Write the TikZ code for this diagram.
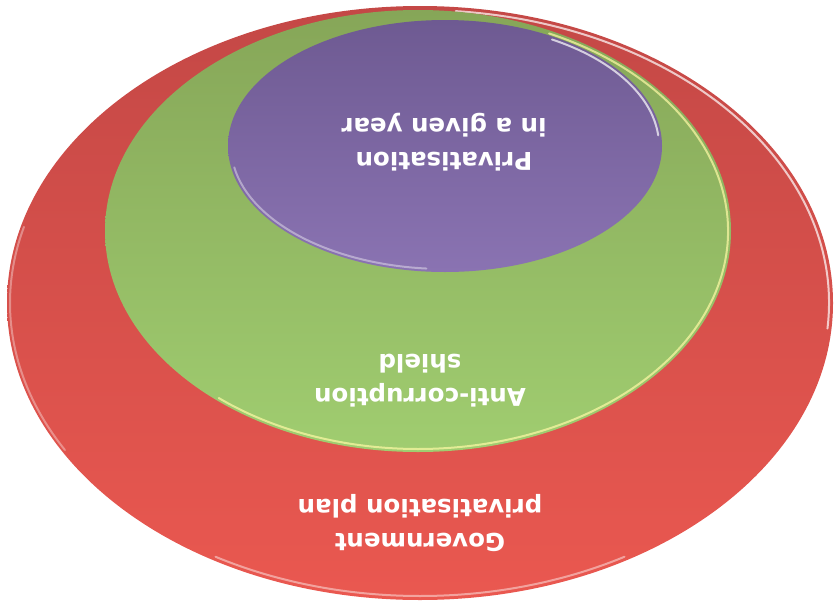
\documentclass[tikz,border=0pt]{standalone}
\usepackage{fontspec}
\setsansfont{DejaVu Sans}
\usetikzlibrary{shapes.geometric}
\definecolor{redtop}{RGB}{196,72,70}
\definecolor{redbot}{RGB}{234,88,80}
\definecolor{greentop}{RGB}{134,166,88}
\definecolor{greenbot}{RGB}{160,205,112}
\definecolor{purpletop}{RGB}{110,90,146}
\definecolor{purplebot}{RGB}{138,115,178}
\tikzset{
  rim/.style={white,opacity=.7,line width=2pt,line cap=round},
  lbl/.style={rotate=180,align=center,text=white,
    font=\sffamily\bfseries\fontsize{24.5}{34}\selectfont}
}

\begin{document}
\begin{tikzpicture}[x=1pt,y=-1pt]
\useasboundingbox (0,0) rectangle (835,608);
\shade[top color=redtop,bottom color=redbot](420,303)ellipse[x radius=413,y radius=297]; %government plan
\draw[rim](420,303)++(-85:409 and 293)arc[start angle=-85,end angle=5,x radius=409,y radius=293];
\draw[rim,opacity=.45](420,303)++(60:409 and 293)arc[start angle=60,end angle=120,x radius=409,y radius=293];
\draw[rim,opacity=.35](420,303)++(150:410 and 294)arc[start angle=150,end angle=195,x radius=410,y radius=294];
\shade[top color=greentop,bottom color=greenbot](418,231)ellipse[x radius=313,y radius=221]; %anti-corruption shield
\draw[rim,color=yellow!35!white](418,231)++(-65:310 and 218)arc[start angle=-65,end angle=130,x radius=310,y radius=218];
\shade[top color=purpletop,bottom color=purplebot](445,146)ellipse[x radius=217,y radius=126]; %privatisation in a year
\draw[rim](445,146)++(-60:214 and 123)arc[start angle=-60,end angle=-5,x radius=214,y radius=123];
\draw[rim,opacity=.4](445,146)++(95:214 and 123)arc[start angle=95,end angle=170,x radius=214,y radius=123];
%labels
\node[lbl](plan)at(420,523){Government\\privatisation plan};
\node[lbl](shield)at(420,381){Anti-corruption\\shield};
\node[lbl](year)at(444,142){Privatisation\\in a given year};
\end{tikzpicture}
\end{document}
